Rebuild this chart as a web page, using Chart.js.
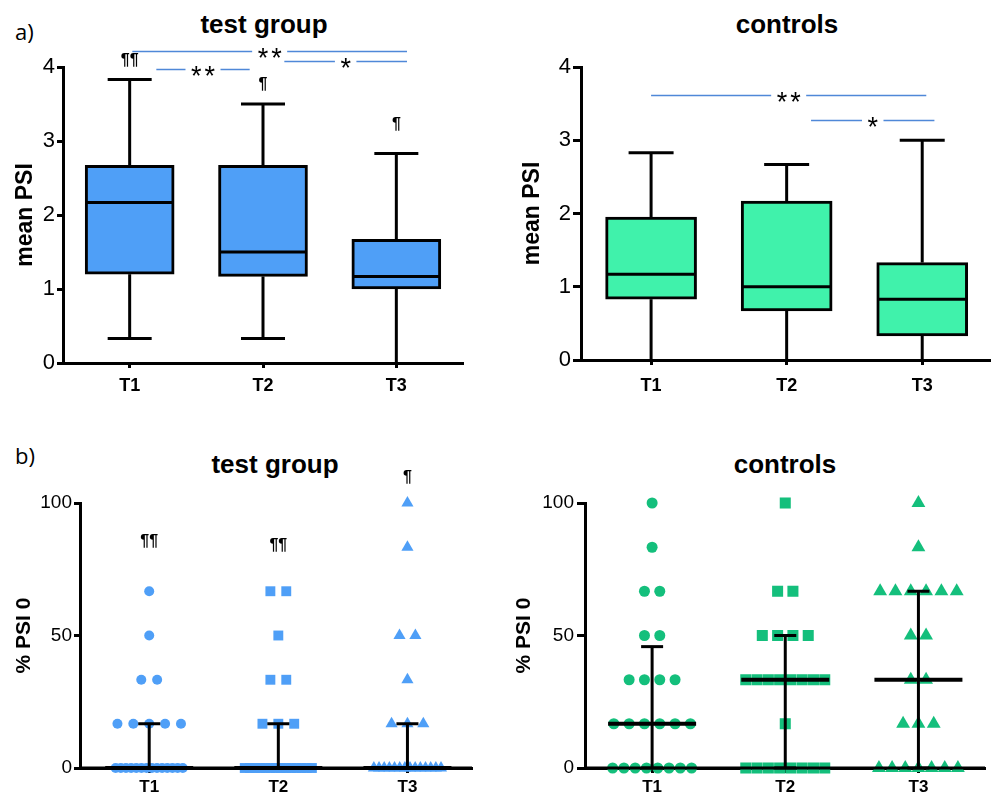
<!DOCTYPE html>
<html>
<head>
<meta charset="utf-8">
<script src="https://cdn.jsdelivr.net/npm/chart.js@4"></script>
<style>
  body { margin: 0; background: #fff; width: 993px; height: 798px; position: relative; overflow: hidden; font-family: "Liberation Sans", Arial, sans-serif; }
  canvas { position: absolute; }
  .lbl { position: absolute; line-height: 1; white-space: nowrap; color: #000; }
  .ttl { font-weight: bold; font-size: 26px; transform: translateX(-50%); }
  .part { font-family: "Open Sans", sans-serif; font-size: 22px; }
</style>
</head>
<body>
<div class="lbl part" style="left:15px;top:20px">a)</div>
<div class="lbl part" style="left:15px;top:444px">b)</div>
<div class="lbl ttl" style="left:264px;top:11px">test group</div>
<div class="lbl ttl" style="left:787px;top:11px">controls</div>
<div class="lbl ttl" style="left:275px;top:451px">test group</div>
<div class="lbl ttl" style="left:785px;top:451px">controls</div>

<canvas id="boxTest" width="480" height="395" style="left:0;top:0"></canvas>
<canvas id="boxCtrl" width="503" height="395" style="left:490px;top:0"></canvas>
<canvas id="dotTest" width="480" height="398" style="left:0;top:400px"></canvas>
<canvas id="dotCtrl" width="503" height="398" style="left:490px;top:400px"></canvas>

<script>
Chart.defaults.font.family = "'Liberation Sans', Arial, sans-serif";
Chart.defaults.color = "#000";

let cats = ["T1", "T2", "T3"];

// a) mean PSI - box (Q1..Q3), median, whiskers min..max
let testMin = [0.33, 0.33, 0];
let testQ1 = [1.2, 1.17, 1.0];
let testMed = [2.17, 1.5, 1.17];
let testQ3 = [2.67, 2.67, 1.67];
let testMax = [3.83, 3.5, 2.83];

let ctrlMin = [0, 0, 0];
let ctrlQ1 = [0.83, 0.67, 0.33];
let ctrlMed = [1.17, 1.0, 0.83];
let ctrlQ3 = [1.95, 2.17, 1.33];
let ctrlMax = [2.83, 2.67, 3.0];

// significance lines (x from/to in category units, y in axis units)
let testSigFrom = [1.02, 1.2, 2.16];
let testSigTo = [3.08, 1.9, 3.08];
let testSigY = [4.22, 3.97, 4.08];
let testSigText = ["**", "**", "*"];

let ctrlSigFrom = [1.0, 2.18];
let ctrlSigTo = [3.03, 3.09];
let ctrlSigY = [3.62, 3.27];
let ctrlSigText = ["**", "*"];

// ¶ marks
let testParaY = [4.09, 3.76, 3.22];
let testParaText = ["¶¶", "¶", "¶"];

// b) % PSI 0 per patient
let dotTestT1 = [66.7, 50, 33.3, 33.3, 16.7, 16.7, 16.7, 16.7, 16.7,
  0, 0, 0, 0, 0, 0, 0, 0, 0, 0, 0, 0, 0, 0];
let dotTestT2 = [66.7, 66.7, 50, 33.3, 33.3, 16.7, 16.7, 16.7,
  0, 0, 0, 0, 0, 0, 0, 0, 0, 0, 0, 0, 0, 0];
let dotTestT3 = [100, 83.3, 50, 50, 33.3, 16.7, 16.7, 16.7,
  0, 0, 0, 0, 0, 0, 0, 0, 0, 0, 0, 0, 0, 0];

let dotCtrlT1 = [100, 83.3, 66.7, 66.7, 50, 50, 33.3, 33.3, 33.3, 33.3,
  16.7, 16.7, 16.7, 16.7, 16.7, 16.7, 0, 0, 0, 0, 0, 0, 0, 0];
let dotCtrlT2 = [100, 66.7, 66.7, 50, 50, 50, 50, 33.3, 33.3, 33.3, 33.3,
  33.3, 33.3, 33.3, 33.3, 16.7, 0, 0, 0, 0, 0, 0, 0, 0];
let dotCtrlT3 = [100, 83.3, 66.7, 66.7, 66.7, 66.7, 66.7, 66.7, 50, 50,
  33.3, 33.3, 16.7, 16.7, 16.7, 0, 0, 0, 0, 0, 0, 0];

// median with interquartile range
let testErrLow = [0, 0, 0];
let testErrMed = [0, 0, 0];
let testErrHigh = [16.7, 16.7, 16.7];
let ctrlErrLow = [0, 0, 0];
let ctrlErrMed = [16.7, 33.3, 33.3];
let ctrlErrHigh = [45.8, 50, 66.7];

let dotParaY = [85.3, 84, 109.4];
let dotParaText = ["¶¶", "¶¶", "¶"];

let blue = "#4f9ff7";
let green = "#40f2ab";
let greenDot = "#14bf7c";
let sigColor = "#4f88d8";

function xAxis(o) {
  return {
    type: "linear",
    min: o.xMin,
    max: 3.5,
    offset: false,
    afterBuildTicks: (s) => {
      s.ticks = cats.map((c, i) => ({ value: i + 1 }));
    },
    ticks: {
      callback: (v) => cats[Math.round(v) - 1],
      padding: o.xPad,
      autoSkip: false,
      maxRotation: 0,
      color: "#000",
      font: { size: o.xFont, weight: "bold" },
    },
    grid: { drawOnChartArea: false, offset: false, tickLength: 5, tickWidth: 3, tickColor: "#000" },
    border: { color: "#000", width: 3 },
    afterFit: (s) => {
      s.height = o.xH;
    },
  };
}

function yAxis(max, step, o) {
  return {
    min: 0,
    max: max,
    ticks: { stepSize: step, padding: o.tickPad, color: "#000", font: { size: o.tickFont } },
    grid: { drawOnChartArea: false, tickLength: o.tickLen, tickWidth: 3, tickColor: "#000" },
    border: { color: "#000", width: 3 },
    title: {
      display: true,
      text: o.title,
      color: "#000",
      font: { size: o.titleFont, weight: "bold" },
      padding: { top: o.titlePad, bottom: 0 },
    },
    afterFit: (s) => {
      s.width = o.yW;
    },
  };
}

// whiskers + median line for the boxes
function whiskers(o) {
  return {
    id: "whiskers",
    afterDatasetsDraw(chart) {
      let ctx = chart.ctx;
      let xs = chart.scales.x;
      let ys = chart.scales.y;
      let line = (x1, y1, x2, y2) => {
        ctx.beginPath();
        ctx.moveTo(x1, y1);
        ctx.lineTo(x2, y2);
        ctx.stroke();
      };
      ctx.save();
      ctx.strokeStyle = "#000";
      ctx.lineWidth = 3;
      for (let i = 0; i < cats.length; i++) {
        let cx = xs.getPixelForValue(i + 1);
        let top = ys.getPixelForValue(o.max[i]);
        let bot = ys.getPixelForValue(o.min[i]);
        line(cx, ys.getPixelForValue(o.q3[i]), cx, top);
        line(cx, ys.getPixelForValue(o.q1[i]), cx, bot);
        line(cx - o.capW / 2, top, cx + o.capW / 2, top);
        if (o.min[i] > 0) line(cx - o.capW / 2, bot, cx + o.capW / 2, bot);
        let m = ys.getPixelForValue(o.med[i]);
        line(cx - o.boxW / 2 + 1, m, cx + o.boxW / 2 - 1, m);
      }
      ctx.restore();
    },
  };
}

// error bars (median, IQR) for the dot plots, drawn over the points
function errBars(o) {
  return {
    id: "errBars",
    afterDatasetsDraw(chart) {
      let ctx = chart.ctx;
      let xs = chart.scales.x;
      let ys = chart.scales.y;
      let a = chart.chartArea;
      let line = (x1, y1, x2, y2, w) => {
        ctx.lineWidth = w;
        ctx.beginPath();
        ctx.moveTo(x1, y1);
        ctx.lineTo(x2, y2);
        ctx.stroke();
      };
      ctx.save();
      ctx.strokeStyle = "#000";
      // axis line runs over the points sitting at 0
      line(a.left, ys.getPixelForValue(0), a.right, ys.getPixelForValue(0), 3);
      for (let i = 0; i < cats.length; i++) {
        let cx = xs.getPixelForValue(i + 1);
        let lo = ys.getPixelForValue(o.low[i]);
        let hi = ys.getPixelForValue(o.high[i]);
        let md = ys.getPixelForValue(o.med[i]);
        line(cx, lo, cx, hi, 3);
        line(cx - 11, hi, cx + 11, hi, 3);
        line(cx - 11, lo, cx + 11, lo, 3);
        line(cx - 44, md, cx + 44, md, 4);
      }
      ctx.restore();
    },
  };
}

// significance lines and ¶ marks
function notes(o) {
  return {
    id: "notes",
    afterDraw(chart) {
      let ctx = chart.ctx;
      let xs = chart.scales.x;
      let ys = chart.scales.y;
      ctx.save();
      for (let i = 0; i < o.sigFrom.length; i++) {
        let x1 = xs.getPixelForValue(o.sigFrom[i]);
        let x2 = xs.getPixelForValue(o.sigTo[i]);
        let y = Math.round(ys.getPixelForValue(o.sigY[i])) + 0.5;
        let xm = (x1 + x2) / 2;
        ctx.font = "27px 'Liberation Sans'";
        ctx.letterSpacing = "3px";
        let w = ctx.measureText(o.sigText[i]).width + 8;
        ctx.strokeStyle = sigColor;
        ctx.lineWidth = 1.3;
        ctx.beginPath();
        ctx.moveTo(x1, y);
        ctx.lineTo(xm - w / 2, y);
        ctx.moveTo(xm + w / 2, y);
        ctx.lineTo(x2, y);
        ctx.stroke();
        ctx.fillStyle = "#000";
        ctx.textAlign = "center";
        ctx.textBaseline = "alphabetic";
        ctx.fillText(o.sigText[i], xm + 1.5, y + 15.5);
      }
      ctx.letterSpacing = "0px";
      ctx.font = "bold 16px 'Liberation Sans'";
      ctx.fillStyle = "#000";
      ctx.textAlign = "center";
      ctx.textBaseline = "middle";
      for (let i = 0; i < o.paraY.length; i++) {
        if (!o.paraText[i]) continue;
        ctx.fillText(o.paraText[i], xs.getPixelForValue(i + 1), ys.getPixelForValue(o.paraY[i]));
      }
      ctx.restore();
    },
  };
}

function boxChart(id, o) {
  let data = cats.map((c, i) => ({ x: i + 1, y: [o.q1[i], o.q3[i]] }));
  return new Chart(document.getElementById(id), {
    type: "bar",
    data: {
      datasets: [
        {
          data: data,
          backgroundColor: o.color,
          borderColor: "#000",
          borderWidth: 3,
          borderSkipped: false,
          barThickness: o.boxW,
        },
      ],
    },
    options: {
      responsive: false,
      animation: false,
      events: [],
      layout: { padding: o.pad },
      plugins: { legend: { display: false }, tooltip: { enabled: false } },
      scales: { x: xAxis(o), y: yAxis(4, 1, o) },
    },
    plugins: [whiskers(o), notes(o)],
  });
}

function swarm(values, center, step, maxSpan) {
  let counts = {};
  values.forEach((v) => (counts[v] = (counts[v] || 0) + 1));
  let seen = {};
  return values.map((v) => {
    let n = counts[v];
    let gap = n > 1 ? Math.min(step, maxSpan / (n - 1)) : 0;
    seen[v] = (seen[v] || 0) + 1;
    return { x: center + (seen[v] - 1 - (n - 1) / 2) * gap, y: v };
  });
}

function dotChart(id, o) {
  let styles = ["circle", "rect", "triangle"];
  let datasets = o.series.map((vals, i) => ({
    data: swarm(vals, i + 1, o.step, o.maxSpan),
    pointStyle: styles[i],
    pointRadius: o.radius[i],
    backgroundColor: o.color,
    borderWidth: 0,
    showLine: false,
    clip: false,
  }));
  return new Chart(document.getElementById(id), {
    type: "scatter",
    data: { datasets: datasets },
    options: {
      responsive: false,
      animation: false,
      events: [],
      layout: { padding: o.pad },
      plugins: { legend: { display: false }, tooltip: { enabled: false } },
      scales: { x: xAxis(o), y: yAxis(100, 50, o) },
    },
    plugins: [errBars(o), notes(o)],
  });
}

boxChart("boxTest", {
  q1: testQ1, q3: testQ3, med: testMed, min: testMin, max: testMax,
  sigFrom: testSigFrom, sigTo: testSigTo, sigY: testSigY, sigText: testSigText,
  paraY: testParaY, paraText: testParaText,
  color: blue, boxW: 89, capW: 44,
  pad: { top: 67, right: 17, bottom: 0, left: 0 },
  xMin: 0.5, xH: 32, xPad: 7, xFont: 18,
  yW: 63, tickLen: 6, tickPad: 2, tickFont: 22,
  title: "mean PSI", titleFont: 23, titlePad: 12,
});

boxChart("boxCtrl", {
  q1: ctrlQ1, q3: ctrlQ3, med: ctrlMed, min: ctrlMin, max: ctrlMax,
  sigFrom: ctrlSigFrom, sigTo: ctrlSigTo, sigY: ctrlSigY, sigText: ctrlSigText,
  paraY: [], paraText: [],
  color: green, boxW: 91, capW: 45,
  pad: { top: 67, right: 3, bottom: 0, left: 0 },
  xMin: 0.483, xH: 35, xPad: 10, xFont: 18,
  yW: 91, tickLen: 8, tickPad: 2, tickFont: 22,
  title: "mean PSI", titleFont: 23, titlePad: 29,
});

dotChart("dotTest", {
  series: [dotTestT1, dotTestT2, dotTestT3],
  low: testErrLow, med: testErrMed, high: testErrHigh,
  sigFrom: [], sigTo: [], sigY: [], sigText: [],
  paraY: dotParaY, paraText: dotParaText,
  color: blue, radius: [5, 7, 7], step: 0.123, maxSpan: 0.52,
  pad: { top: 103, right: 8, bottom: 0, left: 0 },
  xMin: 0.464, xH: 30, xPad: 4, xFont: 17,
  yW: 80, tickLen: 6, tickPad: 2, tickFont: 19,
  title: "% PSI 0", titleFont: 21, titlePad: 12,
});

dotChart("dotCtrl", {
  series: [dotCtrlT1, dotCtrlT2, dotCtrlT3],
  low: ctrlErrLow, med: ctrlErrMed, high: ctrlErrHigh,
  sigFrom: [], sigTo: [], sigY: [], sigText: [],
  paraY: [], paraText: [],
  color: greenDot, radius: [5.5, 7.8, 8], step: 0.115, maxSpan: 0.593,
  pad: { top: 103, right: 3, bottom: 0, left: 0 },
  xMin: 0.496, xH: 30, xPad: 4, xFont: 17,
  yW: 95, tickLen: 8, tickPad: 3, tickFont: 19,
  title: "% PSI 0", titleFont: 21, titlePad: 22,
});
</script>
</body>
</html>
